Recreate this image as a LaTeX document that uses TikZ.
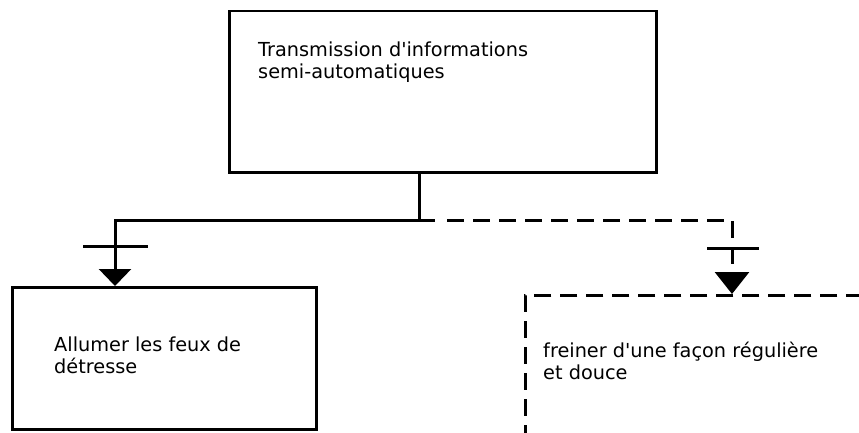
\documentclass[tikz,border=0pt]{standalone}
\usepackage{fontspec}
\setmainfont{DejaVu Sans}
\usetikzlibrary{arrows.meta,calc}

\begin{document}
\begin{tikzpicture}[x=1pt, y=-1pt,
    box/.style={draw, line width=2.5pt, anchor=north west, inner sep=0pt},
    boxtext/.style={anchor=base west, align=left, inner sep=0pt, font=\fontsize{19.3}{22}\selectfont},
    link/.style={line width=3pt},
    hidden/.style={dash pattern=on 17pt off 9pt},
    tip/.style={-{Triangle[length=17pt, width=32pt]}},
    bigtip/.style={-{Triangle[length=22pt, width=34pt]}}]
    %%Background
    \draw[draw=none] (0,0) rectangle (859,433);
    \clip (0,0) rectangle (859,433);

    %%Functions
    \node[box, minimum width=427, minimum height=161] (transm) at (228,10) {};
    \node[box, minimum width=304, minimum height=142] (feux) at (11,286) {};
    \node[box, hidden, minimum width=420, minimum height=200] (frein) at (524,294) {};

    %% base anchor sits on the last line
    \node[boxtext] (transmtxt) at (258,79) {Transmission d\textquotesingle informations\\semi-automatiques};
    \node[boxtext] (feuxtxt) at (54,373) {Allumer les feux de\\détresse};
    \node[boxtext] (freintxt) at (543,379) {freiner d\textquotesingle une façon régulière\\et douce};

    %%Links
    \coordinate (fork) at (419,220);
    \coordinate (feuxin) at ($(feux.north west)+(104,0)$);
    \coordinate (freinin) at ($(frein.north west)+(208,0)$);
    \draw[link] (transm.south -| fork) -- (fork);
    \draw[link, tip] (fork) -| (feuxin);
    \draw[link] (fork) -- ++(16,0);
    \draw[link, hidden, bigtip] ($(fork)+(28,0)$) -| (freinin);

    %% Ticks
    \draw[link] ($(feuxin|-fork)+(-32,26)$) -- ++(65,0);
    \draw[link] ($(freinin|-fork)+(-25,28)$) -- ++(52,0);
\end{tikzpicture}
\end{document}
